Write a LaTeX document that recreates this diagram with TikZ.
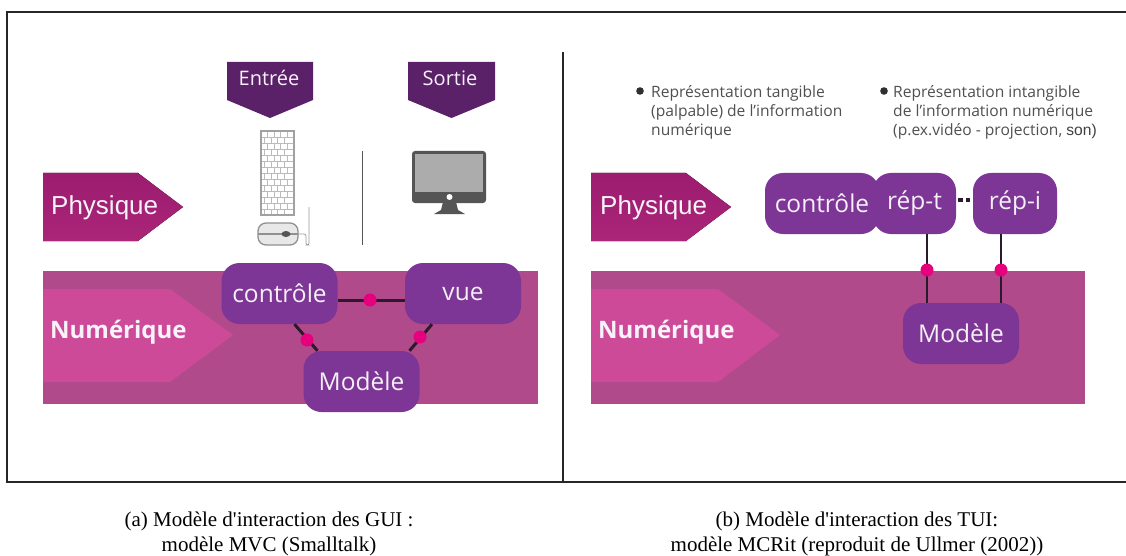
\documentclass[tikz,border=0pt]{standalone}
\usepackage{fontspec}
\setmainfont[Ligatures=TeXOff]{Liberation Serif}
\newfontfamily\segoe{Open Sans}
\newfontfamily\arialf{Liberation Sans}
\definecolor{violet1}{HTML}{7D3696}
\definecolor{violet2}{HTML}{5A2168}
\definecolor{bande}{HTML}{B14A8A}
\definecolor{fleche}{HTML}{CC4A98}
\definecolor{physA}{HTML}{9B1C70}
\definecolor{physB}{HTML}{AB2578}
\definecolor{rose}{HTML}{E6007E}
\definecolor{trait}{HTML}{2B1A2B}
\definecolor{gris}{HTML}{555555}
\definecolor{texte}{HTML}{505050}
\tikzset{
  bloc/.style={fill=violet1, rounded corners=18pt, minimum height=61pt, inner sep=0pt, text=white!92!violet1, font=\segoe\fontsize{24.5}{26}\selectfont},
  pastille/.style={circle, fill=rose, minimum size=13pt, inner sep=0pt},
  lien/.style={draw=trait, line width=3pt},
  lienfin/.style={draw=trait, line width=1.8pt},
  physique/.style={top color=physA, bottom color=physB, draw=none},
  etiquette/.style={text=white!94!violet1, inner sep=0pt, anchor=west},
  puce/.style={text=texte, inner sep=0pt, anchor=north west, align=left, font=\segoe\fontsize{15.6}{19}\selectfont},
  legende/.style={inner sep=0pt, align=center, font=\fontsize{21}{25.5}\selectfont},
  touche/.style={draw=gris!40, line width=0.8pt}
}
\begin{document}
\begin{tikzpicture}[x=1pt,y=-1pt]
\useasboundingbox (0,0) rectangle (1126,556);
\fill[white] (0,0) rectangle (1126,556);
% cadre
\draw[line width=1.2pt, draw=black!85] (1126,12) -- (7,12) -- (7,482) -- (1126,482);
\draw[line width=1.2pt, draw=black!85] (563,52) -- (563,482);
% gauche
\fill[violet2] (227,62) -- (313,62) -- (313,100) -- (270,118) -- (227,100) -- cycle;
\fill[violet2] (408,62) -- (495,62) -- (495,100) -- (451.5,118) -- (408,100) -- cycle;
\node[etiquette, anchor=center, font=\segoe\fontsize{20}{22}\selectfont] (entree) at (269,78) {Entrée};
\node[etiquette, anchor=center, font=\segoe\fontsize{20}{22}\selectfont] (sortie) at (450,78) {Sortie};
% clavier
\foreach \r in {0,2,...,12} {
  \draw[touche] (261,131+6*\r) -- (294,131+6*\r);
  \draw[touche] (261,137+6*\r) -- (294,137+6*\r);
  \foreach \c in {1,...,4} {
    \draw[touche] (261+6.6*\c,131+6*\r) -- (261+6.6*\c,137+6*\r);
    \draw[touche] (258+6.6*\c,137+6*\r) -- (258+6.6*\c,143+6*\r);
  }
}
\draw[draw=gris!55, line width=1.4pt] (261,131) rectangle (294,215);
% souris
\draw[draw=gris!60, line width=0.7pt, rounded corners=2pt] (297,234) -- (306,234) -- (306,245) -- (309,245) -- (309,207);
\draw[draw=gris!65, fill=gray!18, line width=1.3pt, rounded corners=8pt] (258,223) rectangle (298,245);
\draw[draw=gris!65, line width=1.2pt] (258,234) -- (298,234);
\fill[gris] (286,234) ellipse (4.5 and 3);
% separation
\draw[draw=gris, line width=1.5pt] (362.5,151) -- (362.5,245);
% ecran
\fill[gris, rounded corners=3pt] (412,151) rectangle (486,203);
\fill[gray!65] (415,154) rectangle (483,192);
\fill[gris] (443,202) -- (456,202) -- (458,210) -- (465,214) -- (434,214) -- (441,210) -- cycle;
\fill[white] (449.5,197) circle (3);
% physique
\fill[physique] (43,173) -- (138,173) -- (183,207) -- (138,241) -- (43,241) -- cycle;
\node[etiquette, font=\arialf\fontsize{26}{28}\selectfont] (physiqueA) at (51,208) {Physique};
% numerique
\fill[bande] (43,271) rectangle (538,404);
\fill[fleche] (43,289) -- (170,289) -- (233,335) -- (170,382) -- (43,382) -- cycle;
\node[etiquette, font=\segoe\bfseries\fontsize{24}{26}\selectfont] (numeriqueA) at (50,332) {Numérique};
% blocs gauche
\node[bloc, minimum width=116pt] (controleA) at (279.5,293.5) {contrôle\hspace{3pt}};
\node[bloc, minimum width=116pt] (vueA) at (463,293.5) {vue\hspace{7pt}};
\node[bloc, minimum width=116pt] (modeleA) at (361.5,381.5) {Modèle\hspace{3pt}};
\coordinate (c1) at (370,300);
\path[lien] (c1 -| controleA.east) -- (c1 -| vueA.west);
\path[lien] ([xshift=15pt]controleA.south) -- ([xshift=-44pt]modeleA.north);
\path[lien] ([xshift=-31pt]vueA.south) -- ([xshift=48pt]modeleA.north);
\node[pastille] (p1) at (c1) {};
\node[pastille] (p2) at (307,340) {};
\node[pastille] (p3) at (420,337) {};
% droite
\fill[physique] (591,173) -- (686,173) -- (731,207) -- (686,241) -- (591,241) -- cycle;
\node[etiquette, font=\arialf\fontsize{26}{28}\selectfont] (physiqueB) at (600,208) {Physique};
\fill[bande] (591,271) rectangle (1085,404);
\fill[fleche] (591,289) -- (718,289) -- (780,335) -- (718,382) -- (591,382) -- cycle;
\node[etiquette, font=\segoe\bfseries\fontsize{24}{26}\selectfont] (numeriqueB) at (598,332) {Numérique};
\fill[texte!60!black] (640,91) circle (3.8);
\fill[texte!60!black] (884,91) circle (3.8);
\node[puce] (tangible) at (651,85) {Représentation tangible\\(palpable) de l’information\\numérique};
\node[puce] (intangible) at (893,85) {Représentation intangible\\de l’information numérique\\(p.ex.vidéo - projection, {\arialf\color{black!75}son)}};
\node[bloc, minimum width=114pt] (controleB) at (822,203.5) {contrôle\hspace{5pt}};
\node[bloc, minimum width=83pt] (rept) at (914.5,203.5) {rép-t\hspace{10pt}};
\node[bloc, minimum width=84pt] (repi) at (1015,203.5) {rép-i};
\node[bloc, minimum width=116pt] (modeleB) at (961,333.5) {Modèle};
\coordinate (c4) at (927,270);
\coordinate (c5) at (1001,270);
\path[lienfin] (c4 |- rept.south) -- (c4 |- modeleB.north);
\path[lienfin] (c5 |- repi.south) -- (c5 |- modeleB.north);
\path[draw=trait, line width=3.5pt, dash pattern=on 5.5pt off 2.5pt, shorten <=1.5pt, shorten >=2.5pt] ([yshift=3.5pt]rept.east) -- ([yshift=3.5pt]repi.west);
\node[pastille] (p4) at (c4) {};
\node[pastille] (p5) at (c5) {};
% legendes
\node[legende] (legendeA) at (269,534) {(a) Modèle d'interaction des GUI :\\modèle MVC (Smalltalk)};
\node[legende] (legendeB) at (857,534) {(b) Modèle d'interaction des TUI:\\modèle MCRit (reproduit de Ullmer (2002))};
\end{tikzpicture}
\end{document}
